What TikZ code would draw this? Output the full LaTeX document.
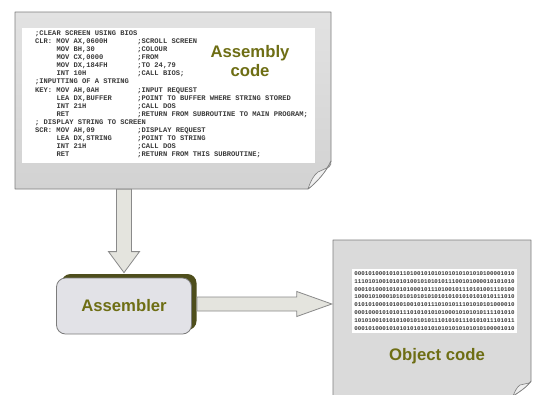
\documentclass[tikz,border=0pt]{standalone}
\usepackage{fontspec}
\setmainfont{Liberation Sans}
\newfontfamily\codemono{Liberation Mono}
\usetikzlibrary{calc,shadows}

\definecolor{pagetop}{HTML}{E2E2E2}
\definecolor{pagebot}{HTML}{D2D2D2}
\definecolor{objfill}{HTML}{DADADA}
\definecolor{pageedge}{HTML}{7E7E7E}
\definecolor{flapfill}{HTML}{EFEFEF}
\definecolor{arrowfill}{HTML}{E4E4DE}
\definecolor{arrowedge}{HTML}{8A8A8A}
\definecolor{boxfill}{HTML}{E2E2E7}
\definecolor{boxedge}{HTML}{7C7C7C}
\definecolor{boxshade}{HTML}{4E4E1C}
\definecolor{labelolive}{HTML}{6E6E14}
\definecolor{codeink}{HTML}{3A3A3A}

% one character of the 7.1pt mono font
\newdimen\cw \cw=4.26pt
\newcommand\asmrow[3]{\makebox[5\cw][l]{#1}\makebox[19\cw][l]{#2}#3}

\begin{document}
\begin{tikzpicture}[x=1pt,y=-1pt,
  page/.style={draw=pageedge,line width=0.8pt,line join=round},
  flap/.style={fill=flapfill,draw=pageedge,line width=0.6pt,line join=round},
  blockarrow/.style={fill=arrowfill,draw=arrowedge,line width=0.8pt,line join=miter},
  biglabel/.style={font=\fontsize{16.7}{19}\selectfont\bfseries,text=labelolive,align=center,inner sep=0pt},
  asmbox/.style={rectangle,rounded corners=9pt,minimum width=135pt,minimum height=56pt,
    fill=boxfill,draw=boxedge,line width=0.8pt,
    general shadow={fill=boxshade,shadow xshift=5pt,shadow yshift=4pt}},
  codetext/.style={font=\codemono\bfseries\fontsize{7.1}{8.1}\selectfont,text=codeink,align=left,inner sep=0pt},
  bintext/.style={font=\codemono\bfseries\fontsize{5.8}{7.9}\selectfont,text=codeink,align=center,
    fill=white,inner sep=0pt,minimum width=165pt,minimum height=64pt},
  area/.style={inner sep=0pt,draw=none}]

\useasboundingbox[fill=white] (0,0) rectangle (534,394);

% page areas used as anchors
\node[area,minimum width=316pt,minimum height=177pt] (code) at (173,100.5) {};
\node[area,minimum width=198pt,minimum height=156pt] (obj) at (432,318) {};

% the assembler
\node[asmbox,biglabel] (asm) at (124,306) {Assembler};

% source page with curled corner
\path[page,top color=pagetop,bottom color=pagebot]
  (15,12) -- (331,12) -- (331,161) .. controls (326,172) and (316,183) .. (308,189) -- (15,189) -- cycle;
\fill[white] (22,28) rectangle (315,163);
\path[flap] (308,189) .. controls (311,180) and (314,175) .. (318,172) -- (329,167)
  .. controls (331,166) and (331,163) .. (331,161)
  .. controls (326,172) and (316,183) .. (308,189) -- cycle;

\node[codetext,anchor=north west] (src) at (35,30.4) {%
;CLEAR SCREEN USING BIOS\\
\asmrow{CLR:}{MOV AX,0600H}{;SCROLL SCREEN}\\
\asmrow{}{MOV BH,30}{;COLOUR}\\
\asmrow{}{MOV CX,0000}{;FROM}\\
\asmrow{}{MOV DX,184FH}{;TO 24,79}\\
\asmrow{}{INT 10H}{;CALL BIOS;}\\
;INPUTTING OF A STRING\\
\asmrow{KEY:}{MOV AH,0AH}{;INPUT REQUEST}\\
\asmrow{}{LEA DX,BUFFER}{;POINT TO BUFFER WHERE STRING STORED}\\
\asmrow{}{INT 21H}{;CALL DOS}\\
\asmrow{}{RET}{;RETURN FROM SUBROUTINE TO MAIN PROGRAM;}\\
; DISPLAY STRING TO SCREEN\\
\asmrow{SCR:}{MOV AH,09}{;DISPLAY REQUEST}\\
\asmrow{}{LEA DX,STRING}{;POINT TO STRING}\\
\asmrow{}{INT 21H}{;CALL DOS}\\
\asmrow{}{RET}{;RETURN FROM THIS SUBROUTINE;}};

\node[biglabel] (srclabel) at (250,61.5) {Assembly\\code};

% object page with curled corner
\path[page,fill=objfill]
  (333,240) -- (531,240) -- (531,381) .. controls (527,387) and (519,392) .. (513,396) -- (333,396) -- cycle;
\path[flap] (513,396) .. controls (515,391) and (517,387) .. (520,385) -- (529,383)
  .. controls (531,382.5) and (531,381.5) .. (531,381)
  .. controls (527,387) and (519,392) .. (513,396) -- cycle;

\node[bintext] (bits) at (434.5,301) {%
0001010001010110100101010101010101010100001010\\
1110101001010101001010101011100101000010101010\\
0001010001010101000101110100101110101001110100\\
1000101000101010101010101010101010101010111010\\
0101010001010010010101110101011101010101000010\\
0001000101010111010101010100010101010111101010\\
1010100101010100101010111010101110101011101011\\
0001010001010101010101010101010101010100001010};

\node[biglabel] (objlabel) at (437,356) {Object code};

% block arrows: source -> assembler -> object
\draw[blockarrow] let \p1=($(asm.north)+(0,-5)$), \p2=(code.south) in
  (\x1-7.5pt,\y2) -- (\x1-7.5pt,\y1+21pt) -- (\x1-15.5pt,\y1+21pt) -- (\p1)
  -- (\x1+15.5pt,\y1+21pt) -- (\x1+7.5pt,\y1+21pt) -- (\x1+7.5pt,\y2) -- cycle;
\draw[blockarrow] let \p1=(asm.east), \p2=(obj.west) in
  (\x1+5pt,\y1+9pt) -- (\x2-36pt,\y1+9pt) -- (\x2-36pt,\y1+14.5pt) -- (\x2-1pt,\y1+2pt)
  -- (\x2-36pt,\y1-10.5pt) -- (\x2-36pt,\y1-5pt) -- (\x1+5pt,\y1-5pt) -- cycle;

\end{tikzpicture}
\end{document}
